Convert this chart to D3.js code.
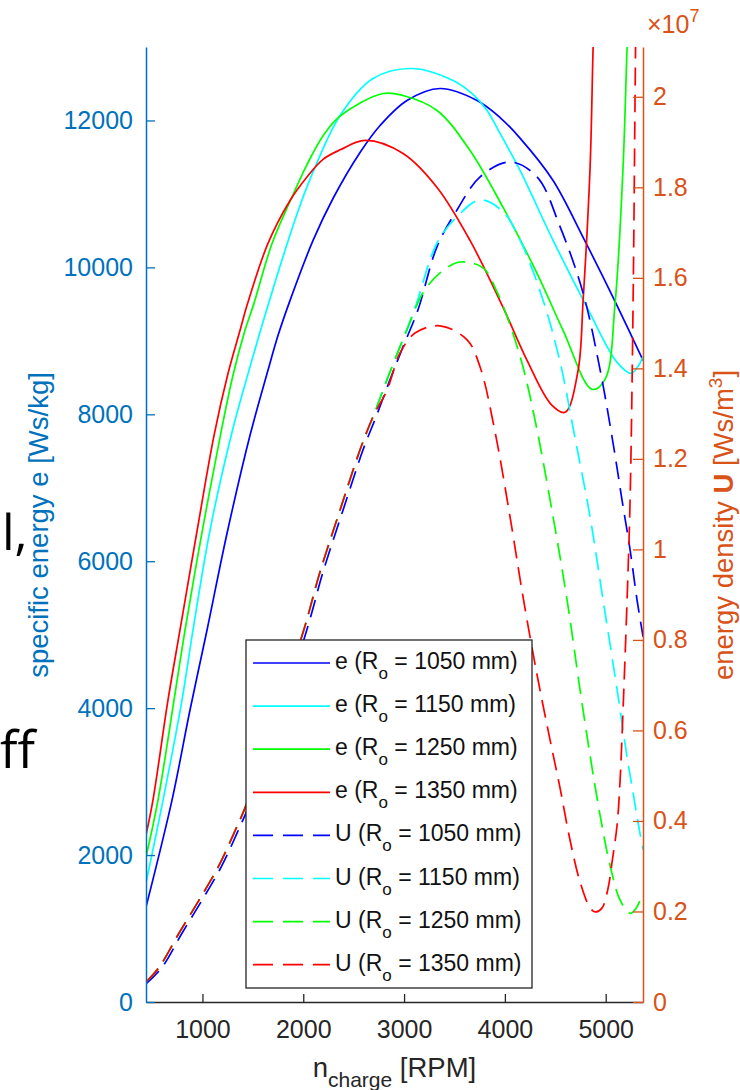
<!DOCTYPE html>
<html>
<head>
<meta charset="utf-8">
<script src="https://cdnjs.cloudflare.com/ajax/libs/d3/7.8.5/d3.min.js"></script>
<style>
  body { margin: 0; background: #fff; }
  svg { display: block; font-family: "Liberation Sans", Arial, sans-serif; }
</style>
</head>
<body>
<script>
const rpmTicks = [1000, 2000, 3000, 4000, 5000]
const eTicks = [0, 2000, 4000, 6000, 8000, 10000, 12000]
const uTicks = [0, 0.2, 0.4, 0.6, 0.8, 1, 1.2, 1.4, 1.6, 1.8, 2]
const uTickLabels = ['0', '0.2', '0.4', '0.6', '0.8', '1', '1.2', '1.4', '1.6', '1.8', '2']

const radii = [1050, 1150, 1250, 1350]
const colors = ['#0000ff', '#00ffff', '#00ff00', '#ff0000']

// specific energy e [Ws/kg], solid lines
const eRpm1050 = [440, 698, 876, 1045, 1244, 1472, 1650, 1750, 1869, 2097, 2295, 2563, 2762, 3029, 3357, 3724, 3952, 4150, 4478, 4776, 5073, 5371]
const e1050 = [1292, 2748, 3972, 5061, 6381, 7714, 8599, 9075, 9551, 10367, 10938, 11564, 11932, 12272, 12435, 12272, 12040, 11760, 11183, 10408, 9592, 8734]

const eRpm1150 = [440, 609, 797, 906, 1075, 1293, 1442, 1591, 1819, 1968, 2087, 2365, 2692, 3079, 3486, 3684, 3823, 3952, 4150, 4478, 4815, 5113, 5252, 5321, 5371]
const e1150 = [1619, 2748, 4109, 5061, 6422, 7755, 8503, 9211, 10231, 10843, 11265, 12068, 12571, 12707, 12544, 12354, 12136, 11823, 11319, 10367, 9455, 8707, 8558, 8653, 8789]

const eRpm1250 = [440, 559, 718, 827, 996, 1184, 1303, 1422, 1511, 1690, 1869, 2037, 2200, 2365, 2791, 2990, 3327, 3654, 3982, 4319, 4577, 4865, 4994, 5093, 5172, 5212, 5232]
const e1250 = [1973, 2748, 4109, 5061, 6395, 7755, 8531, 9143, 9510, 10326, 10900, 11400, 11800, 12060, 12367, 12340, 12136, 11591, 10816, 9918, 9143, 8340, 8476, 9510, 11360, 12979, 13600]

const eRpm1350 = [440, 509, 658, 777, 946, 1115, 1254, 1373, 1442, 1650, 1869, 2037, 2196, 2365, 2613, 2990, 3327, 3654, 3982, 4220, 4458, 4597, 4726, 4776, 4845, 4875, 4895]
const e1350 = [2272, 2748, 4109, 5061, 6408, 7714, 8558, 9143, 9483, 10326, 10911, 11230, 11470, 11600, 11728, 11550, 11088, 10367, 9455, 8734, 8136, 8027, 8598, 9551, 11360, 12979, 13770]

// energy density U [1e7 Ws/m^3], dashed lines
const uRpm1050 = [440, 600, 797, 996, 1185, 1343, 1482, 2035, 2196, 2395, 2593, 2722, 2861, 2990, 3139, 3327, 3525, 3754, 4050, 4319, 4547, 4775, 4944, 5073, 5162, 5242, 5311, 5371]
const u1050 = [0.040, 0.077, 0.152, 0.225, 0.298, 0.373, 0.446, 0.822, 0.950, 1.087, 1.220, 1.293, 1.375, 1.448, 1.530, 1.669, 1.750, 1.823, 1.856, 1.823, 1.713, 1.567, 1.397, 1.235, 1.109, 0.999, 0.888, 0.807]

// 1150, 1250 and 1350 share the same rising branch
const uRiseRpm = [440, 571, 767, 966, 1155, 1313, 1452, 2005, 2166, 2365, 2563, 2692]
const uRise = [0.044, 0.077, 0.152, 0.225, 0.298, 0.373, 0.446, 0.822, 0.950, 1.087, 1.220, 1.293]

const uTailRpm1150 = [2831, 2960, 3109, 3327, 3525, 3754, 3982, 4150, 4378, 4547, 4696, 4845, 4974, 5113, 5212, 5272, 5321, 5371]
const uTail1150 = [1.375, 1.448, 1.534, 1.677, 1.735, 1.772, 1.746, 1.684, 1.551, 1.414, 1.246, 1.072, 0.888, 0.690, 0.541, 0.462, 0.396, 0.336]

const uTailRpm1250 = [2831, 2960, 3029, 3188, 3357, 3555, 3783, 3922, 4051, 4180, 4319, 4478, 4617, 4746, 4845, 4944, 5043, 5143, 5242, 5301, 5371]
const uTail1250 = [1.375, 1.448, 1.485, 1.567, 1.611, 1.635, 1.622, 1.569, 1.496, 1.403, 1.264, 1.072, 0.888, 0.689, 0.545, 0.413, 0.302, 0.225, 0.196, 0.207, 0.241]

const uTailRpm1350 = [2831, 2960, 3109, 3357, 3625, 3754, 3902, 4051, 4180, 4319, 4448, 4547, 4646, 4746, 4845, 4895, 4964, 5024, 5063, 5113, 5143, 5172, 5212, 5242, 5272, 5291, 5301]
const uTail1350 = [1.352, 1.434, 1.478, 1.494, 1.463, 1.403, 1.260, 1.072, 0.895, 0.723, 0.579, 0.473, 0.358, 0.265, 0.208, 0.199, 0.208, 0.252, 0.309, 0.391, 0.491, 0.645, 0.888, 1.109, 1.551, 1.993, 2.214]

const eSeries = [
  d3.zip(eRpm1050, e1050),
  d3.zip(eRpm1150, e1150),
  d3.zip(eRpm1250, e1250),
  d3.zip(eRpm1350, e1350)
]
const uSeries = [
  d3.zip(uRpm1050, u1050),
  d3.zip(uRiseRpm.concat(uTailRpm1150), uRise.concat(uTail1150)),
  d3.zip(uRiseRpm.concat(uTailRpm1250), uRise.concat(uTail1250)),
  d3.zip(uRiseRpm.concat(uTailRpm1350), uRise.concat(uTail1350))
]

const w = 740
const h = 1090
const plotLeft = 146
const plotRight = 643
const plotTop = 47
const plotBottom = 1002

const blue = '#0072BD'
const orange = '#D95319'
const dark = '#262626'

const svg = d3.select('body')
  .append('svg')
  .attr('width', w)
  .attr('height', h)

const x = d3.scaleLinear().domain([440, 5370]).range([plotLeft, plotRight])
const yE = d3.scaleLinear().domain([0, 13000]).range([plotBottom, plotTop])
const yU = d3.scaleLinear().domain([0, 2.11]).range([plotBottom, plotTop])

svg.append('clipPath')
  .attr('id', 'plot-clip')
  .append('rect')
  .attr('x', plotLeft)
  .attr('y', plotTop)
  .attr('width', plotRight - plotLeft)
  .attr('height', plotBottom - plotTop)

const lineFor = (y) => d3.line()
  .x(d => x(d[0]))
  .y(d => y(d[1]))
  .curve(d3.curveCatmullRom.alpha(0.5))

const plot = svg.append('g').attr('clip-path', 'url(#plot-clip)')

plot.selectAll('.e-line')
  .data(eSeries)
  .enter()
  .append('path')
  .attr('class', 'e-line')
  .attr('fill', 'none')
  .attr('stroke', (d, i) => colors[i])
  .attr('stroke-width', 1.7)
  .attr('d', lineFor(yE))

plot.selectAll('.u-line')
  .data(uSeries)
  .enter()
  .append('path')
  .attr('class', 'u-line')
  .attr('fill', 'none')
  .attr('stroke', (d, i) => colors[i])
  .attr('stroke-width', 1.7)
  .attr('stroke-dasharray', '18,9')
  .attr('d', lineFor(yU))

// axes
const styleAxis = (g, color) => {
  g.attr('font-family', null)
    .attr('font-size', 25)
    .attr('color', color)
  g.select('.domain').attr('stroke-width', 1.5)
  g.selectAll('.tick line').attr('stroke-width', 1.3)
}

svg.append('g')
  .attr('transform', `translate(0,${plotBottom})`)
  .call(d3.axisBottom(x)
    .tickValues(rpmTicks)
    .tickFormat(d3.format('d'))
    .tickSizeInner(-8)
    .tickSizeOuter(0)
    .tickPadding(18))
  .call(g => styleAxis(g, dark))

svg.append('g')
  .attr('transform', `translate(${plotLeft},0)`)
  .call(d3.axisLeft(yE)
    .tickValues(eTicks)
    .tickFormat(d3.format('d'))
    .tickSizeInner(-9)
    .tickSizeOuter(0)
    .tickPadding(13))
  .call(g => styleAxis(g, blue))

svg.append('g')
  .attr('transform', `translate(${plotRight},0)`)
  .call(d3.axisRight(yU)
    .tickValues(uTicks)
    .tickFormat((d, i) => uTickLabels[i])
    .tickSizeInner(-10)
    .tickSizeOuter(0)
    .tickPadding(10))
  .call(g => styleAxis(g, orange))

// exponent of the right axis
const expo = svg.append('text')
  .attr('x', 647)
  .attr('y', 33)
  .attr('font-size', 25)
  .attr('fill', orange)
  .text('\u00d710')
expo.append('tspan')
  .attr('font-size', 18)
  .attr('dy', -11)
  .text('7')

// axis labels
svg.append('text')
  .attr('transform', 'translate(48,525) rotate(-90)')
  .attr('text-anchor', 'middle')
  .attr('font-size', 27.5)
  .attr('fill', blue)
  .text('specific energy e [Ws/kg]')

const uLabel = svg.append('text')
  .attr('transform', 'translate(733,525) rotate(-90)')
  .attr('text-anchor', 'middle')
  .attr('font-size', 27.5)
  .attr('fill', orange)
uLabel.append('tspan').text('energy density ')
uLabel.append('tspan').attr('font-weight', 'bold').text('U')
uLabel.append('tspan').text(' [Ws/m')
uLabel.append('tspan').attr('font-size', 19).attr('dy', -11).text('3')
uLabel.append('tspan').attr('dy', 11).text(']')

const xLabel = svg.append('text')
  .attr('x', (plotLeft + plotRight) / 2)
  .attr('y', 1077)
  .attr('text-anchor', 'middle')
  .attr('font-size', 27.5)
  .attr('fill', dark)
xLabel.append('tspan').text('n')
xLabel.append('tspan').attr('font-size', 21).attr('dy', 10).text('charge')
xLabel.append('tspan').attr('dy', -10).text(' [RPM]')

// legend
const legendItems = ['e', 'U'].flatMap(q => radii.map((r, i) => ({q: q, r: r, color: colors[i]})))
const rowY = (i) => 663 + i * 43.1

svg.append('rect')
  .attr('x', 246)
  .attr('y', 640)
  .attr('width', 286)
  .attr('height', 348)
  .attr('fill', '#fff')
  .attr('stroke', dark)
  .attr('stroke-width', 1.3)

const legend = svg.selectAll('.legend-row')
  .data(legendItems)
  .enter()
  .append('g')
  .attr('class', 'legend-row')

legend.append('line')
  .attr('x1', 253)
  .attr('x2', 330)
  .attr('y1', (d, i) => rowY(i))
  .attr('y2', (d, i) => rowY(i))
  .attr('stroke', d => d.color)
  .attr('stroke-width', 1.7)
  .attr('stroke-dasharray', d => d.q === 'U' ? '20,10' : null)

const legendText = legend.append('text')
  .attr('x', 335)
  .attr('y', (d, i) => rowY(i) + 6)
  .attr('font-size', 23)
  .attr('fill', '#111')
legendText.append('tspan').text(d => `${d.q} (R`)
legendText.append('tspan').attr('font-size', 17).attr('dy', 10).text('o')
legendText.append('tspan').attr('dy', -10).text(d => ` = ${d.r} mm)`)

// slide text showing at the left edge
svg.append('text')
  .attr('x', 2)
  .attr('y', 550)
  .style('font-family', '"Open Sans", sans-serif')
  .attr('font-size', 50)
  .attr('fill', '#000')
  .text('l,')

svg.append('text')
  .attr('x', 0)
  .attr('y', 768)
  .style('font-family', '"Open Sans", sans-serif')
  .attr('font-size', 52)
  .attr('fill', '#000')
  .text('ff')
</script>
</body>
</html>
